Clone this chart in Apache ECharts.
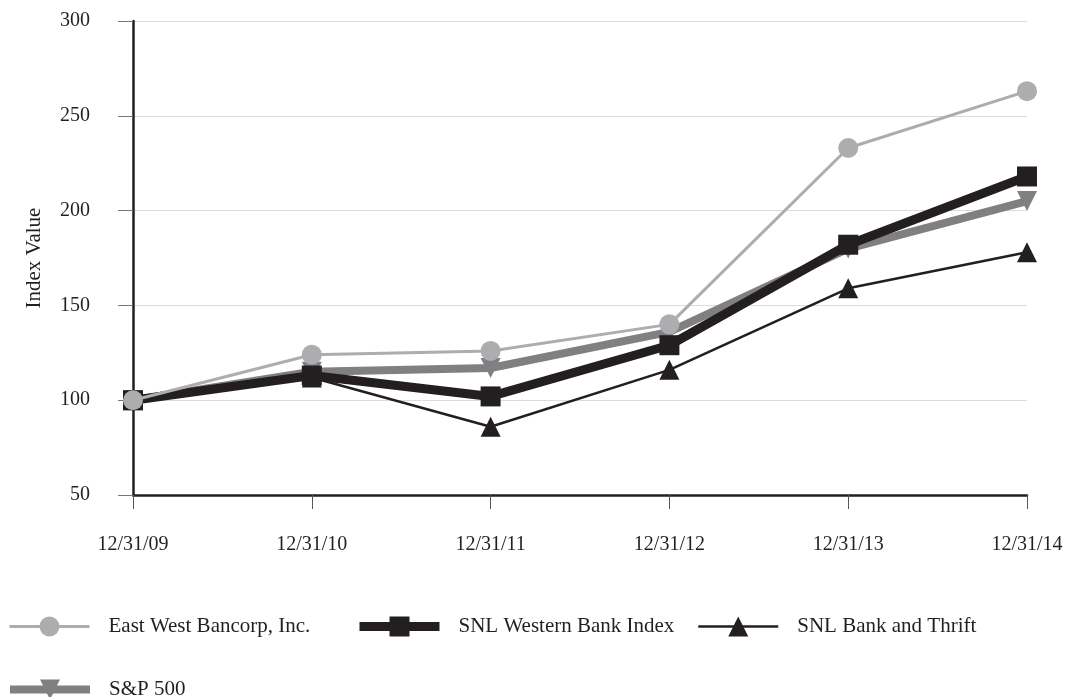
<!DOCTYPE html>
<html><head><meta charset="utf-8">
<script src="https://cdn.jsdelivr.net/npm/echarts@6/dist/echarts.min.js"></script>
<style>html,body{margin:0;padding:0;background:#fff}#c{width:1069px;height:697px}</style>
</head><body><div id="c"></div>
<script>
const categories = ['12/31/09','12/31/10','12/31/11','12/31/12','12/31/13','12/31/14'];
const eastWest = [100, 124, 126, 140, 233, 263];
const snlWestern = [100, 113, 102, 129, 182, 218];
const snlBankThrift = [100, 112, 86, 116, 159, 178];
const sp500 = [100, 115, 117, 136, 180, 205];
const yTicks = {min: 50, max: 300, interval: 50};

const font = 'Liberation Serif';
const black = '#231f20', light = '#adadb0', mid = '#808083';
const chart = echarts.init(document.getElementById('c'));

function legend(name, lw, left, top){
  return {data:[{name:name, lineStyle:{width:lw}}], left:left, top:top, itemWidth:80, itemHeight:25,
    textStyle:{fontFamily:font, fontSize:21, color:'#231f20', padding:[0,0,0,14]}, selectedMode:false};
}

chart.setOption({
  animation:false,
  backgroundColor:'#fff',
  grid:{left:133, right:42, top:21, bottom:202},
  legend:[
    legend('East West Bancorp, Inc.', 3, 3, 611),
    legend('SNL Western Bank Index', 9, 350, 611),
    legend('SNL Bank and Thrift', 2.5, 692, 611),
    legend('S&P 500', 8, 1, 674)
  ],
  xAxis:{type:'category', data:categories, boundaryGap:false,
    axisLine:{lineStyle:{color:black, width:2.5}},
    axisTick:{show:true, length:14, lineStyle:{color:'#555', width:1}},
    axisLabel:{margin:40, fontFamily:font, fontSize:20, color:'#231f20'},
    splitLine:{show:false}},
  yAxis:{type:'value', min:yTicks.min, max:yTicks.max, interval:yTicks.interval,
    name:'Index Value', nameLocation:'middle', nameGap:88, nameRotate:90,
    nameTextStyle:{fontFamily:font, fontSize:21, color:'#231f20'},
    axisLine:{show:true, lineStyle:{color:black, width:2.5}},
    axisTick:{show:true, length:15, lineStyle:{color:'#777', width:1}},
    axisLabel:{margin:43, fontFamily:font, fontSize:20, color:'#231f20'},
    splitLine:{show:true, lineStyle:{color:'#dcdcdc', width:1}}},
  series:[
    {name:'East West Bancorp, Inc.', type:'line', data:eastWest, z:5,
      symbol:'circle', symbolSize:20, itemStyle:{color:light},
      lineStyle:{color:light, width:3}},
    {name:'SNL Western Bank Index', type:'line', data:snlWestern, z:4,
      symbol:'rect', symbolSize:20, itemStyle:{color:black},
      lineStyle:{color:black, width:9}},
    {name:'SNL Bank and Thrift', type:'line', data:snlBankThrift, z:3,
      symbol:'triangle', symbolSize:20, itemStyle:{color:black},
      lineStyle:{color:black, width:2.5}},
    {name:'S&P 500', type:'line', data:sp500, z:2,
      symbol:'triangle', symbolRotate:180, symbolSize:20, itemStyle:{color:mid},
      lineStyle:{color:mid, width:8}}
  ]
});
</script></body></html>
